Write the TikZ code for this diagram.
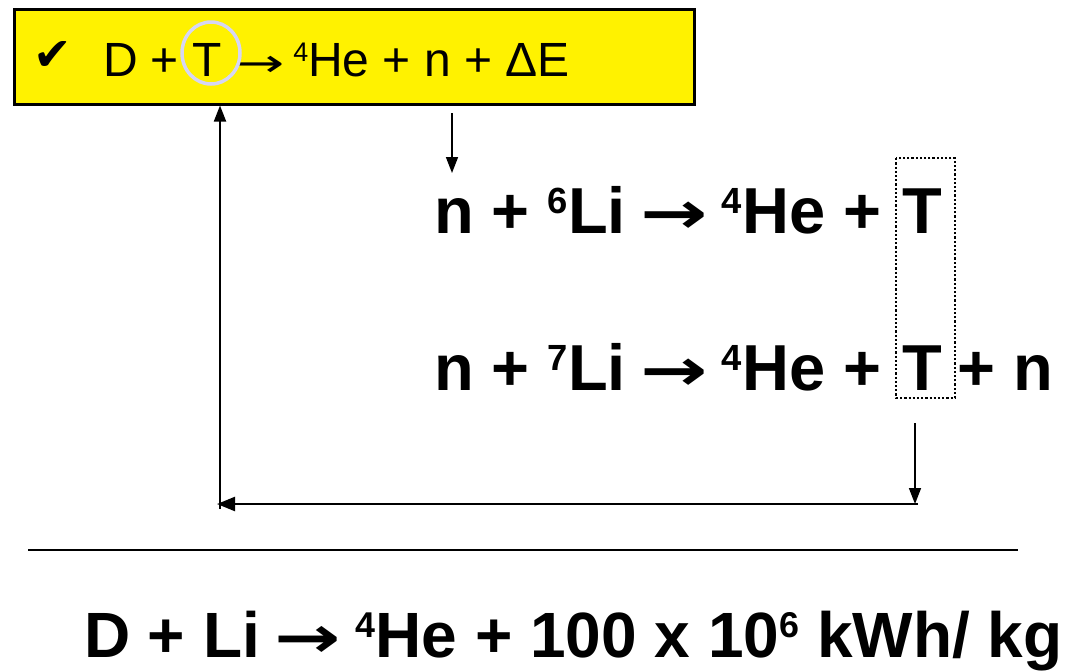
\documentclass[tikz,border=0pt]{standalone}
\usepackage{fontspec}
\setmainfont{Liberation Sans}
\newfontfamily\symfont{DejaVu Sans}
\usetikzlibrary{arrows.meta,calc}
\newcommand\Sup[1]{\raisebox{0.30em}{\scalebox{0.56}{#1}}}
\newcommand\BArr{\makebox[60pt]{\scalebox{1.24}[0.9]{\symfont\bfseries →}}}
\newcommand\TArr{\makebox[45pt]{\hspace{6pt}\scalebox{1.2}[0.8]{\symfont\mdseries →}}}
\begin{document}
\begin{tikzpicture}[x=1pt,y=-1pt,
  txt/.style={inner sep=0pt,outer sep=0pt,anchor=base west},
  topfont/.style={font=\fontsize{48}{56}\selectfont},
  bigfont/.style={font=\fontsize{65}{76}\selectfont\bfseries},
  botfont/.style={font=\fontsize{64}{76}\selectfont\bfseries},
  conn/.style={line width=2pt,-{Triangle[length=16pt,width=12pt]}}]
\useasboundingbox (0,0) rectangle (1066,670);
% yellow box
\node[draw=black,line width=2.5pt,fill=yellow,minimum width=680pt,minimum height=95pt,anchor=north west,inner sep=0pt] (box) at (13,8) {};
\node[txt,font=\symfont\fontsize{46}{52}\selectfont] (chk) at (33,70) {✔};
\node[txt,topfont] (a1) at (103,76) {D +};
\node[txt,topfont] (t0) at ([xshift=13.3pt]a1.base east) {T};
\node[txt,topfont] (a2) at ([xshift=13.3pt]t0.base east) {\TArr\ \Sup{4}He + n + ΔE};
\draw[line width=3.5pt,draw={rgb,255:red,214;green,214;blue,244}] (211,53) ellipse [x radius=29, y radius=31];
% middle reactions
\node[txt,bigfont] (b1) at (434,233) {n + \Sup{6}Li \BArr{} \Sup{4}He +};
\node[txt,bigfont] (t1) at ([xshift=21pt]b1.base east) {T};
\node[txt,bigfont] (c1) at (434,390) {n + \Sup{7}Li \BArr{} \Sup{4}He +};
\node[txt,bigfont] (t2) at ([xshift=21pt]c1.base east) {T};
\node[txt,bigfont] (c2) at ([xshift=16pt]t2.base east) {+ n};
\draw[dotted,line width=2.2pt] ($(t1.north west)+(-6,-30)$) rectangle ($(t2.south east)+(13,8)$);
% connectors
\coordinate (p1) at (452,113);
\coordinate (p2) at (452,173);
\draw[conn,line width=1.6pt] (p1) -- (p2);
\coordinate (q1) at (915,423);
\coordinate (q2) at (915,504);
\coordinate (r1) at (918,504);
\coordinate (r2) at (217,504);
\coordinate (s1) at (220,509);
\draw[conn,line width=1.6pt] (q1) -- (q2);
\draw[line width=2.4pt,-{Triangle[length=18pt,width=14pt]}] (r1) -- (r2);
\draw[conn,line width=1.8pt] (s1) -- (s1 |- box.south);
% rule
\coordinate (h1) at (28,550);
\coordinate (h2) at (1018,550);
\draw[line width=2.6pt] (h1) -- (h2);
% bottom
\node[txt,botfont] (d1) at (84,657) {D + Li \BArr{} \Sup{4}He + 100 x 10\Sup{6} kWh/ kg};
\end{tikzpicture}
\end{document}
